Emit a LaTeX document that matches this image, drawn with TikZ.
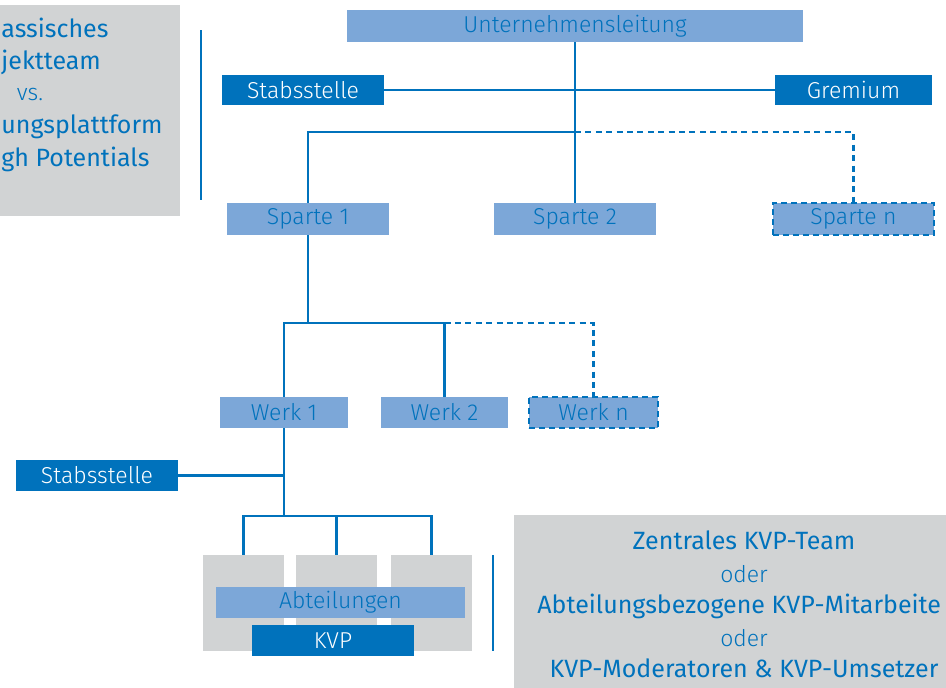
\documentclass[tikz,border=0pt]{standalone}
\usepackage{fontspec}
\setmainfont{Fira Sans Light}[BoldFont={Fira Sans}]
\definecolor{kvpblue}{RGB}{0,114,188}
\definecolor{hellblau}{RGB}{124,167,216}
\definecolor{grau}{RGB}{209,211,212}

\begin{document}
\begin{tikzpicture}[x=0.5pt, y=-0.5pt,
    font=\fontsize{11.5}{13}\selectfont,
    box/.style={rectangle, inner sep=0pt, minimum height=16pt, text=kvpblue},
    hell/.style={box, fill=hellblau},
    dunkel/.style={box, fill=kvpblue, text=white},
    offen/.style={hell, draw=kvpblue, densely dashed, line width=0.6pt},
    feld/.style={rectangle, fill=grau, inner sep=0pt},
    linie/.style={draw=kvpblue, line width=1.4pt},
    strich/.style={linie, dash pattern=on 3pt off 2.2pt},
    fett/.style={text=kvpblue, font=\fontsize{12.5}{14}\selectfont\bfseries},
    duenn/.style={text=kvpblue}]
    \useasboundingbox (0,0) rectangle (946,687);
    \clip (0,0) rectangle (946,687);

    % Gray fields
    \node[feld, minimum width=150pt, minimum height=105.5pt] (links) at (30,110.5) {};
    \node[feld, minimum width=230pt, minimum height=89.5pt] (rechts) at (744,604.5) {};
    \node[feld, minimum width=40.5pt, minimum height=48pt] (g1) at (243.5,603) {};
    \node[feld, minimum width=40.5pt, minimum height=48pt] (g2) at (336.5,603) {};
    \node[feld, minimum width=40.5pt, minimum height=48pt] (g3) at (431.5,603) {};

    % Text in the gray fields
    \node[fett, anchor=base west, inner xsep=0pt] (l1) at (1,37) {assisches};
    \node[fett, anchor=base west, inner xsep=0pt] (l2) at (1,69) {jektteam};
    \node[duenn, anchor=base] (l3) at (30,100) {vs.};
    \node[fett, anchor=base west, inner xsep=0pt] (l4) at (1,133) {ungsplattform};
    \node[fett, anchor=base west, inner xsep=0pt] (l5) at (1,166) {gh Potentials};

    \node[fett, anchor=base] (r1) at (744,549) {Zentrales KVP-Team};
    \node[duenn, anchor=base] (r2) at (744,582) {oder};
    \node[fett, anchor=base] (r3) at (744,613) {Abteilungsbezogene KVP-Mitarbeite\hphantom{r}};
    \node[duenn, anchor=base] (r4) at (744,646) {oder};
    \node[fett, anchor=base] (r5) at (744,677) {KVP-Moderatoren \& KVP-Umsetzer};

    % Bars beside the gray fields
    \coordinate (b1) at (201,30);
    \coordinate (b2) at (201,200);
    \coordinate (b3) at (493,555);
    \coordinate (b4) at (493,651);
    \draw[linie] (b1) -- (b2);
    \draw[linie] (b3) -- (b4);

    % Boxes
    \node[hell, minimum width=228pt] (ul) at (575,26) {Unternehmensleitung};
    \node[dunkel, minimum width=81pt, minimum height=15pt] (stab1) at (303,90) {Stabsstelle};
    \node[dunkel, minimum width=78.5pt, minimum height=15pt] (grem) at (853.5,90) {Gremium};

    \node[hell, minimum width=81pt] (sp1) at (308,219) {Sparte 1};
    \node[hell, minimum width=81pt] (sp2) at (575,219) {Sparte 2};
    \node[offen, minimum width=80.5pt] (spn) at (853.5,219) {Sparte n};

    \node[hell, minimum width=64pt, minimum height=15.5pt] (w1) at (284,412.5) {Werk 1};
    \node[hell, minimum width=63.5pt, minimum height=15.5pt] (w2) at (444.5,412.5) {Werk 2};
    \node[offen, minimum width=64.5pt, minimum height=15.5pt] (wn) at (593.5,412.5) {Werk n};

    \node[dunkel, minimum width=81pt, minimum height=15.5pt] (stab2) at (97,475.5) {Stabsstelle};

    \node[hell, minimum width=124.5pt, minimum height=15.5pt] (abt) at (340.5,602.5) {Abteilungen};
    \node[dunkel, minimum width=81pt, minimum height=15.5pt] (kvp) at (333,640.5) {KVP};

    % Connectors
    \coordinate (j1) at (575,132);
    \coordinate (j2) at (308,323);
    \coordinate (j3) at (284,516);

    \draw[linie] (ul) -- (sp2);
    \draw[linie] (stab1) -- (grem);
    \draw[linie] (sp1.north) |- (j1);
    \draw[strich] (j1) -| (spn.north);

    \draw[linie] (sp1.south) -- (j2);
    \draw[linie] (w1.north) |- (w2.north |- j2) -- (w2.north);
    \draw[strich] (w2.north |- j2) -| (wn.north);

    \draw[linie] (w1.south) -- (j3);
    \draw[linie] (stab2.east) -- (stab2.east -| j3);
    \draw[linie] (g1.north) |- (g3.north |- j3) -- (g3.north);
    \draw[linie] (g2.north) -- (g2.north |- j3);
\end{tikzpicture}
\end{document}
